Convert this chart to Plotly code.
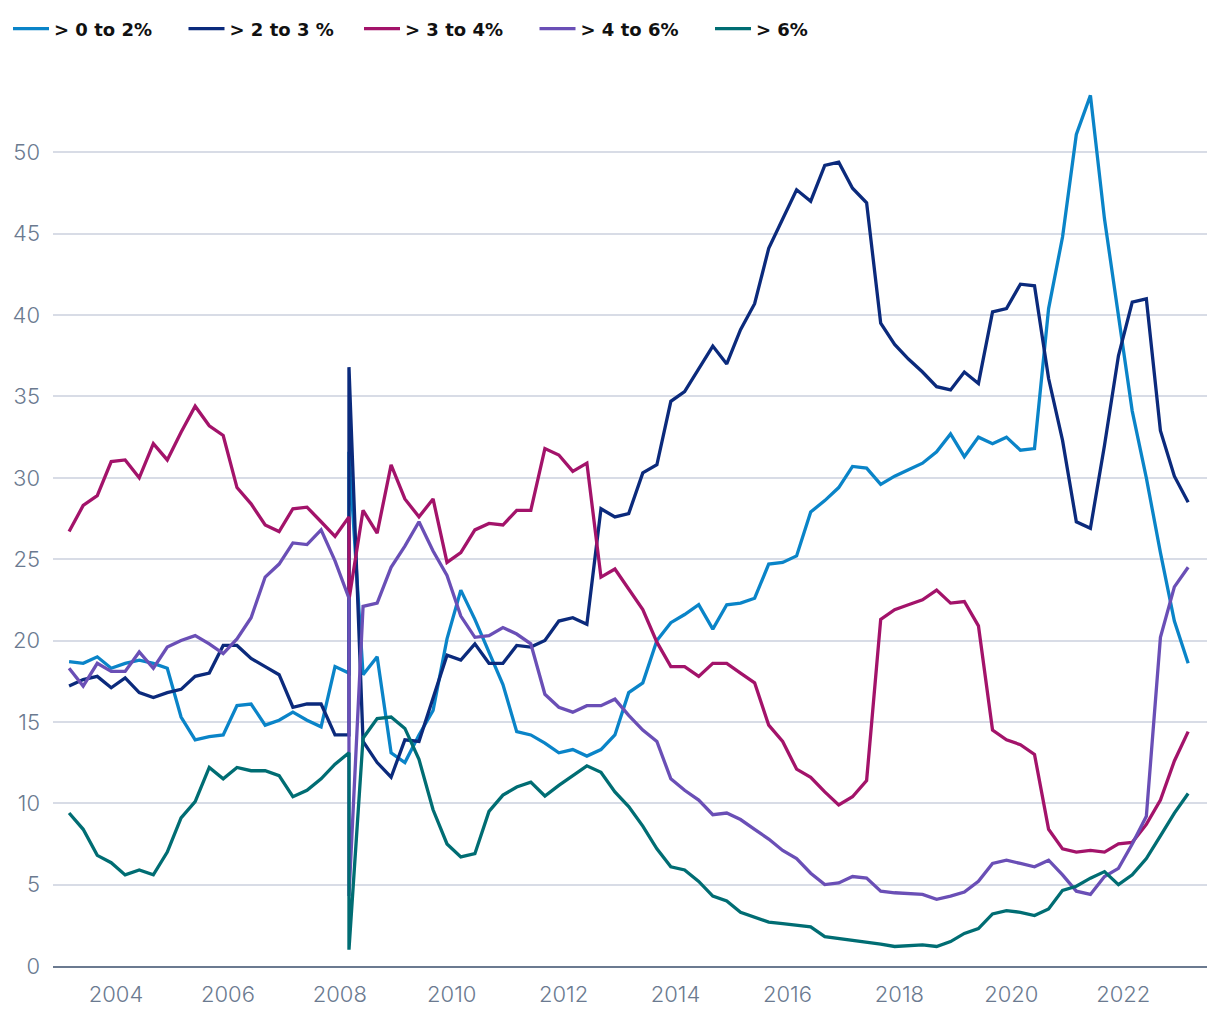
import plotly.graph_objects as go

# Quarterly observation dates (2003-03 .. 2023-03); 2008-03 appears twice in the source data
dates = [f"{2003 + (2 + 3 * k) // 12}-{(2 + 3 * k) % 12 + 1:02d}-01" for k in range(81)]
dates.insert(21, dates[20])

series_names = ["> 0 to 2%", "> 2 to 3 %", "> 3 to 4%", "> 4 to 6%", "> 6%"]
series_colors = ["#0a84c8", "#0b2a7c", "#a3136a", "#6a4fb6", "#006d73"]

share_0_2 = [18.7, 18.6, 19.0, 18.3, 18.6, 18.8, 18.6, 18.3, 15.3, 13.9,
             14.1, 14.2, 16.0, 16.1, 14.8, 15.1, 15.6, 15.1, 14.7, 18.4,
             18.0, 31.6,
             17.9, 19.0, 13.1, 12.5, 14.2, 15.7, 20.1, 23.1, 21.3, 19.3,
             17.3, 14.4, 14.2, 13.7, 13.1, 13.3, 12.9, 13.3, 14.2, 16.8,
             17.4, 20.0, 21.1, 21.6, 22.2, 20.7, 22.2, 22.3, 22.6, 24.7,
             24.8, 25.2, 27.9, 28.6, 29.4, 30.7, 30.6, 29.6, 30.1, 30.5,
             30.9, 31.6, 32.7, 31.3, 32.5, 32.1, 32.5, 31.7, 31.8, 40.4,
             44.8, 51.1, 53.5, 45.9, 40.0, 34.1, 30.0, 25.4, 21.2, 18.6]

share_2_3 = [17.2, 17.6, 17.8, 17.1, 17.7, 16.8, 16.5, 16.8, 17.0, 17.8,
             18.0, 19.7, 19.7, 18.9, 18.4, 17.9, 15.9, 16.1, 16.1, 14.2,
             14.2, 36.8,
             13.8, 12.5, 11.6, 13.9, 13.8, 16.4, 19.1, 18.8, 19.8, 18.6,
             18.6, 19.7, 19.6, 20.0, 21.2, 21.4, 21.0, 28.1, 27.6, 27.8,
             30.3, 30.8, 34.7, 35.3, 36.7, 38.1, 37.0, 39.1, 40.7, 44.1,
             45.9, 47.7, 47.0, 49.2, 49.4, 47.8, 46.9, 39.5, 38.2, 37.3,
             36.5, 35.6, 35.4, 36.5, 35.8, 40.2, 40.4, 41.9, 41.8, 36.1,
             32.3, 27.3, 26.9, 32.0, 37.5, 40.8, 41.0, 32.9, 30.1, 28.5]

share_3_4 = [26.7, 28.3, 28.9, 31.0, 31.1, 30.0, 32.1, 31.1, 32.8, 34.4,
             33.2, 32.6, 29.4, 28.4, 27.1, 26.7, 28.1, 28.2, 27.3, 26.4,
             27.6, 22.5,
             28.0, 26.6, 30.8, 28.7, 27.6, 28.7, 24.8, 25.4, 26.8, 27.2,
             27.1, 28.0, 28.0, 31.8, 31.4, 30.4, 30.9, 23.9, 24.4, 23.2,
             21.9, 19.9, 18.4, 18.4, 17.8, 18.6, 18.6, 18.0, 17.4, 14.8,
             13.8, 12.1, 11.6, 10.7, 9.9, 10.4, 11.4, 21.3, 21.9, 22.2,
             22.5, 23.1, 22.3, 22.4, 20.9, 14.5, 13.9, 13.6, 13.0, 8.4,
             7.2, 7.0, 7.1, 7.0, 7.5, 7.6, 8.7, 10.2, 12.6, 14.4]

share_4_6 = [18.3, 17.2, 18.6, 18.1, 18.1, 19.3, 18.3, 19.6, 20.0, 20.3,
             19.8, 19.2, 20.1, 21.4, 23.9, 24.7, 26.0, 25.9, 26.8, 24.9,
             22.6, 4.3,
             22.1, 22.3, 24.5, 25.8, 27.3, 25.5, 24.0, 21.5, 20.2, 20.3,
             20.8, 20.4, 19.8, 16.7, 15.9, 15.6, 16.0, 16.0, 16.4, 15.4,
             14.5, 13.8, 11.5, 10.8, 10.2, 9.3, 9.4, 9.0, 8.4, 7.8,
             7.1, 6.6, 5.7, 5.0, 5.1, 5.5, 5.4, 4.6, 4.5, 4.45,
             4.4, 4.1, 4.3, 4.55, 5.2, 6.3, 6.5, 6.3, 6.1, 6.5,
             5.6, 4.6, 4.4, 5.5, 6.0, 7.5, 9.2, 20.2, 23.3, 24.5]

share_6_plus = [9.4, 8.4, 6.8, 6.35, 5.6, 5.9, 5.6, 7.0, 9.1, 10.1,
                12.2, 11.5, 12.2, 12.0, 12.0, 11.7, 10.4, 10.8, 11.5, 12.4,
                13.1, 1.0,
                14.0, 15.2, 15.3, 14.6, 12.7, 9.6, 7.5, 6.7, 6.9, 9.5,
                10.5, 11.0, 11.3, 10.45, 11.1, 11.7, 12.3, 11.9, 10.7, 9.8,
                8.6, 7.2, 6.1, 5.9, 5.2, 4.3, 4.0, 3.3, 3.0, 2.7,
                2.6, 2.5, 2.4, 1.8, 1.7, 1.6, 1.45, 1.35, 1.2, 1.25,
                1.3, 1.2, 1.5, 2.0, 2.3, 3.2, 3.4, 3.3, 3.1, 3.5,
                4.65, 4.9, 5.4, 5.8, 5.0, 5.6, 6.6, 8.0, 9.4, 10.6]

y_ticks = [0, 5, 10, 15, 20, 25, 30, 35, 40, 45, 50]

all_series = [share_0_2, share_2_3, share_3_4, share_4_6, share_6_plus]

fig = go.Figure()
for name, color, vals in zip(series_names, series_colors, all_series):
    fig.add_trace(go.Scatter(
        x=dates, y=vals, name=name, mode="lines",
        line=dict(color=color, width=3.3),
        hovertemplate="%{x|%b %Y}: %{y}<extra>" + name + "</extra>",
    ))

tick_font = dict(family="Inter", size=22, color="#6b7a90", weight=300)

FIG_W, FIG_H = 1204, 1004

fig.update_layout(
    width=FIG_W, height=FIG_H,
    margin=dict(l=44, r=5, t=63, b=35),
    paper_bgcolor="white", plot_bgcolor="white",
    showlegend=True,
    legend=dict(
        orientation="h", xref="container", yref="container",
        x=0.0, y=1 - 21 / FIG_H, xanchor="left", yanchor="middle",
        font=dict(family="DejaVu Sans", size=18, color="#111111", weight="bold"),
        itemwidth=36, entrywidth=124.5, traceorder="normal",
    ),
    xaxis=dict(
        type="date", range=["2002-11-16", "2023-07-02"],
        tick0="2004-01-01", dtick="M24", tickformat="%Y",
        showgrid=False, zeroline=False,
        showline=True, linecolor="#6b7a90", linewidth=2,
        ticks="", ticklabelstandoff=8, tickfont=tick_font,
    ),
    yaxis=dict(
        range=[0, 55], tickvals=y_ticks,
        showgrid=True, gridcolor="#d8dce6", gridwidth=2,
        zeroline=False, showline=False,
        ticks="", ticklabelstandoff=12, tickfont=tick_font,
    ),
)

fig.write_html("out.html")
